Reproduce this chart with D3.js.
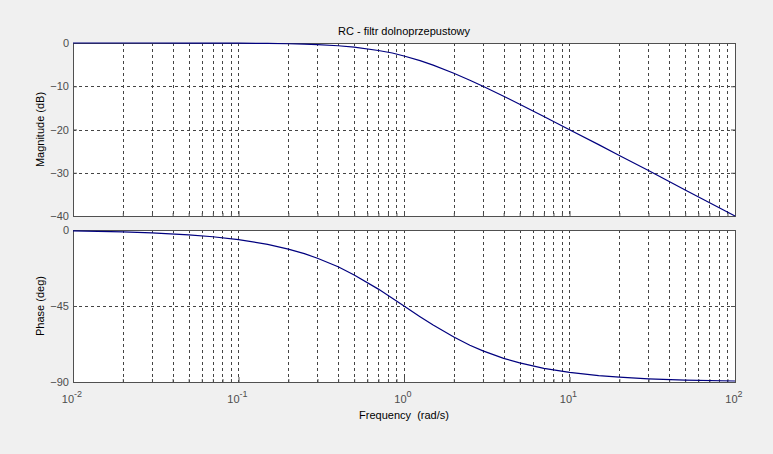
<!DOCTYPE html>
<html><head><meta charset="utf-8">
<script src="https://cdn.jsdelivr.net/npm/d3@7"></script>
<style>
html,body{margin:0;padding:0;background:#f0f0f0;}
svg{display:block;font-family:"Liberation Sans",Arial,sans-serif;}
</style></head>
<body>
<svg id="c" width="773" height="454"></svg>
<script>
// Data
const freq  = [0.01, 0.02, 0.03, 0.05, 0.07, 0.1, 0.15, 0.2, 0.25, 0.3, 0.4, 0.5, 0.7, 0.85, 1, 1.25, 1.5, 2, 2.5, 3, 4, 5, 7, 10, 15, 20, 30, 50, 100];
const magDb = [0, -0.002, -0.004, -0.011, -0.021, -0.043, -0.1, -0.17, -0.26, -0.37, -0.64, -0.97, -1.73, -2.32, -3.01, -4.08, -5.12, -6.99, -8.6, -10, -12.3, -14.15, -17.0, -20.04, -23.5, -26.0, -29.5, -33.98, -40.0];
const phaseDeg = [-0.57, -1.15, -1.72, -2.86, -4.0, -5.71, -8.5, -11.3, -14.0, -16.7, -21.8, -26.6, -35.0, -40.4, -45, -51.3, -56.3, -63.4, -68.2, -71.6, -76.0, -78.7, -81.9, -84.3, -86.2, -87.1, -88.1, -88.9, -89.4];
const magTicks = [0, -10, -20, -30, -40];
const phaseTicks = [0, -45, -90];
const decades = [-2, -1, 0, 1, 2];
const titleText = "RC - filtr dolnoprzepustowy";

const svg = d3.select("#c");
const L = 73, R = 735;
const x = d3.scaleLog().domain([0.01, 100]).range([L, R]);
const yMag = d3.scaleLinear().domain([-40, 0]).range([216, 43]);
const yPh = d3.scaleLinear().domain([-90, 0]).range([382, 230]);

const minor = [];
for (let d = -2; d < 2; d++) for (let k = 1; k <= 9; k++) minor.push(k * Math.pow(10, d));
minor.push(100);

const gridColor = "#444";
const tickColor = "#4d4d4d";

function panel(y, ticks, label, showX) {
  const [b, t] = y.range();
  const g = svg.append("g");
  g.append("rect").attr("x", L).attr("y", t).attr("width", R - L).attr("height", b - t).attr("fill", "#fff");
  g.selectAll(".vg").data(minor.filter(v => v > 0.01 && v < 100)).enter().append("line")
    .attr("x1", d => Math.round(x(d)) + 0.5).attr("x2", d => Math.round(x(d)) + 0.5)
    .attr("y1", t).attr("y2", b)
    .attr("stroke", gridColor).attr("stroke-width", 1).attr("stroke-dasharray", "3,3");
  g.selectAll(".hg").data(ticks.filter(v => v !== y.domain()[0] && v !== y.domain()[1])).enter().append("line")
    .attr("x1", L).attr("x2", R)
    .attr("y1", d => Math.round(y(d)) + 0.5).attr("y2", d => Math.round(y(d)) + 0.5)
    .attr("stroke", gridColor).attr("stroke-width", 1).attr("stroke-dasharray", "3,3");
  const ya = d3.axisLeft(y).tickValues(ticks).tickSize(-4).tickPadding(4).tickFormat(d3.format("d"));
  const yg = g.append("g").attr("transform", `translate(${L},0)`).call(ya);
  yg.select(".domain").remove();
  yg.selectAll("line").attr("stroke", tickColor);
  yg.selectAll("text").attr("fill", tickColor).attr("font-size", 11).style("font-family", "Liberation Sans, Arial, sans-serif");
  const ya2 = d3.axisRight(y).tickValues(ticks).tickSize(-4).tickFormat("");
  const yg2 = g.append("g").attr("transform", `translate(${R},0)`).call(ya2);
  yg2.select(".domain").remove();
  yg2.selectAll("line").attr("stroke", tickColor);
  const xa = d3.axisBottom(x).tickValues(minor).tickSize(0).tickFormat("");
  const xg = g.append("g").attr("transform", `translate(0,${b})`).call(xa);
  xg.select(".domain").remove();
  xg.selectAll(".tick line").each(function(d){
    const isMajor = decades.some(e => Math.abs(Math.log10(d) - e) < 1e-9);
    d3.select(this).attr("y2", isMajor ? -5 : -3).attr("stroke", tickColor);
  });
  g.append("rect").attr("x", L + 0.5).attr("y", t + 0.5).attr("width", R - L).attr("height", b - t)
    .attr("fill", "none").attr("stroke", "#505050").attr("stroke-width", 1);
  g.append("text").attr("transform", `translate(44,${(t + b) / 2}) rotate(-90)`)
    .attr("text-anchor", "middle").attr("font-size", 11).attr("fill", "#000").text(label);
  if (showX) {
    const lab = g.append("g");
    decades.forEach(e => {
      const tx = lab.append("text").attr("x", x(Math.pow(10, e)) - 1).attr("y", b + 21)
        .attr("font-size", 11).attr("fill", tickColor).attr("text-anchor", "middle");
      tx.append("tspan").text("10");
      tx.append("tspan").attr("dy", -6).attr("font-size", 9).text(String(e));
    });
  }
  return g;
}

const magPanel = panel(yMag, magTicks, "Magnitude (dB)", false);
const phasePanel = panel(yPh, phaseTicks, "Phase (deg)", true);

const line1 = d3.line().x((d, i) => x(freq[i])).y(d => yMag(d));
const line2 = d3.line().x((d, i) => x(freq[i])).y(d => yPh(d));
svg.append("path").attr("d", line1(magDb)).attr("fill", "none").attr("stroke", "#00007f").attr("stroke-width", 1.2);
svg.append("path").attr("d", line2(phaseDeg)).attr("fill", "none").attr("stroke", "#00007f").attr("stroke-width", 1.2);

svg.append("text").attr("x", 404).attr("y", 35).attr("text-anchor", "middle").attr("font-size", 11).text(titleText);
svg.append("text").attr("x", 404).attr("y", 419).attr("text-anchor", "middle").attr("font-size", 11)
  .attr("xml:space", "preserve").style("white-space", "pre").text("Frequency  (rad/s)");
</script>
</body></html>
